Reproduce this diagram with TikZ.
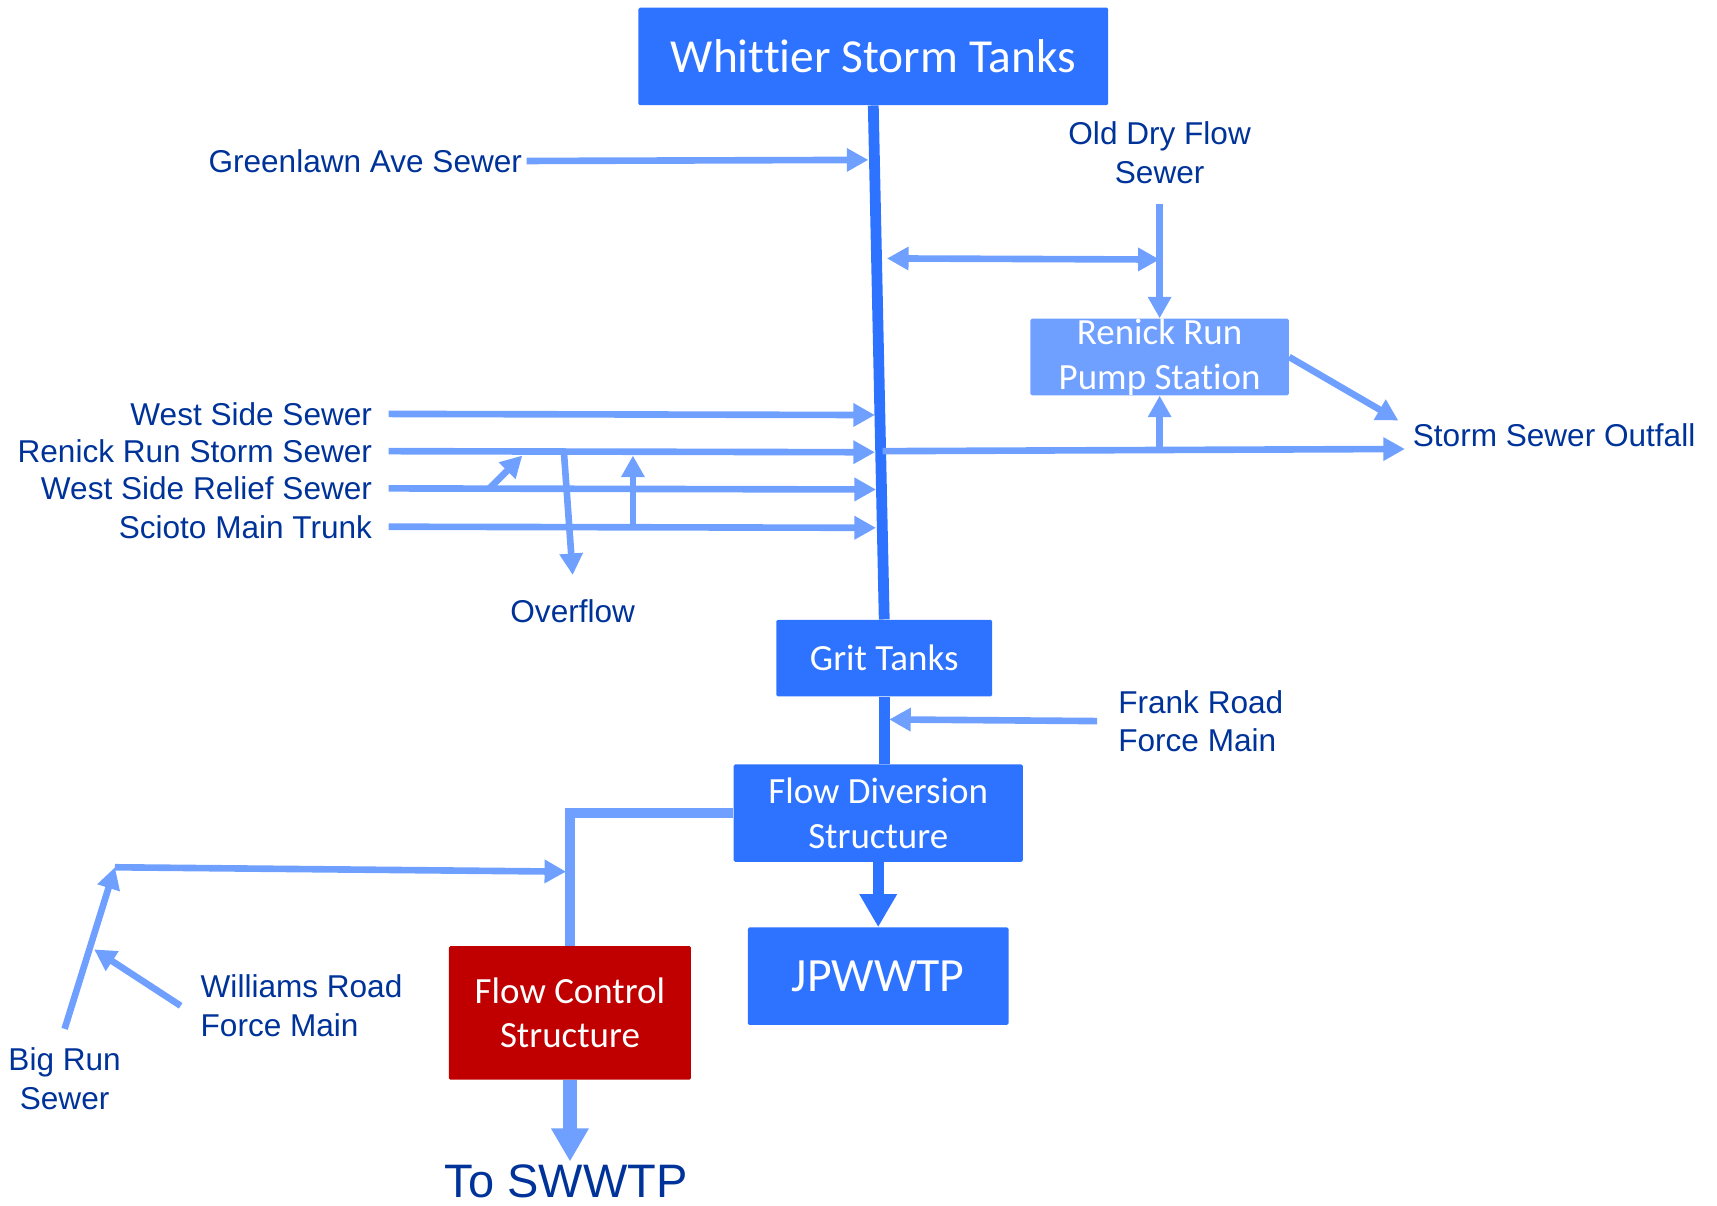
\documentclass[tikz,border=0pt]{standalone}
\usepackage{fontspec}
\setmainfont{Liberation Sans}
\newfontfamily\boxfont[Ligatures=NoCommon]{Carlito}
\usepackage{tikz}
\usetikzlibrary{arrows.meta, positioning}
\definecolor{tankblue}{RGB}{46,115,255}
\definecolor{pipeblue}{RGB}{111,160,255}
\definecolor{labelblue}{RGB}{0,51,153}
\definecolor{controlred}{RGB}{192,0,0}

\begin{document}
\begin{tikzpicture}[x=0.025cm, y=-0.025cm,
    tank/.style={fill=tankblue, text=white, font=\boxfont\fontsize{24}{29}\selectfont,
        align=center, inner sep=0pt, rounded corners=1pt},
    lbl/.style={text=labelblue, font=\fontsize{20.5}{25}\selectfont, inner sep=0pt},
    pipe/.style={pipeblue, line width=4.3pt},
    feed/.style={pipe, -{Triangle[length=14pt, width=14.5pt]}},
    main/.style={tankblue, line width=7pt},
    bigtip/.style={-{Triangle[length=21.5pt, width=23pt]}}]
    \useasboundingbox (0,0) rectangle (1568,1101);

    % boxes
    \node[tank, minimum width=10.725cm, minimum height=2.225cm,
        font=\boxfont\fontsize{30.8}{36}\selectfont] (whittier) at (797.5,51.5) {Whittier Storm Tanks};
    \node[tank, minimum width=4.925cm, minimum height=1.75cm] (grit) at (807.5,601) {Grit Tanks};
    \node[tank, minimum width=6.6cm, minimum height=2.225cm] (fds) at (802,742.5) {Flow Diversion\\Structure};
    \node[tank, minimum width=5.95cm, minimum height=2.225cm,
        font=\boxfont\fontsize{31}{36}\selectfont] (jpwwtp) at (802,891.5) {JPWWTP};
    \node[tank, fill=controlred, minimum width=5.525cm, minimum height=3.05cm] (fcs) at (520.5,925) {Flow Control\\Structure};
    \node[tank, fill=pipeblue, minimum width=5.9cm, minimum height=1.75cm] (pump) at (1059,326) {Renick Run\\Pump Station};

    % labels
    \node[lbl, anchor=east] (greenlawn) at (477,147) {Greenlawn Ave Sewer};
    \node[lbl, align=center] (olddry) at (1059,139.5) {Old Dry Flow\\Sewer};
    \node[lbl, anchor=east] (westside) at (340,378) {West Side Sewer};
    \node[lbl, anchor=east] (renickstorm) at (340,412) {Renick Run Storm Sewer};
    \node[lbl, anchor=east] (relief) at (340,446) {West Side Relief Sewer};
    \node[lbl, anchor=east] (scioto) at (340,481) {Scioto Main Trunk};
    \node[lbl] (overflow) at (523,558) {Overflow};
    \node[lbl, anchor=west] (outfall) at (1290,397) {Storm Sewer Outfall};
    \node[lbl, anchor=west, align=left] (frank) at (1021,658.5) {Frank Road\\Force Main};
    \node[lbl, anchor=west, align=left] (williams) at (183,918.5) {Williams Road\\Force Main};
    \node[lbl, align=center] (bigrun) at (59,985) {Big Run\\Sewer};
    \node[lbl, font=\fontsize{30.5}{36}\selectfont] (toswwtp) at (517,1079) {To SWWTP};

    % points on the pipes
    \coordinate (glIn) at (793,146);
    \coordinate (wsIn) at (799,379);
    \coordinate (rrIn) at (799,413);
    \coordinate (wrIn) at (800,447);
    \coordinate (smIn) at (800,482);
    \coordinate (dryMain) at (810,236);
    \coordinate (dryJoin) at (1059,237);
    \coordinate (outStart) at (806,412);
    \coordinate (outEnd) at (1283,410);
    \coordinate (pumpTee) at (1059,411);
    \coordinate (pumpOut) at (1277,384);
    \coordinate (reliefUp) at (446,447);
    \coordinate (reliefTip) at (477,416);
    \coordinate (ovTop) at (515,413);
    \coordinate (trunkUp) at (578,482);
    \coordinate (trunkTip) at (578,416);
    \coordinate (frankTip) at (812,657);
    \coordinate (bigrunBend) at (105,792);
    \coordinate (bigrunTip) at (517,796);
    \coordinate (williamsTip) at (86,867);

    % main line
    \draw[main] (whittier.south) -- (grit.north);
    \draw[main] (grit.south) -- (grit.south |- fds.north);
    \draw[main, bigtip] (fds.south) -- (jpwwtp.north);
    \draw[pipe, line width=7pt] (fds.west) -| (fcs.north);
    \draw[pipe, line width=8.5pt, bigtip, shorten >=2pt] (fcs.south) -- (fcs.south |- toswwtp.north);

    % sewers in
    \draw[feed] ([xshift=0.1cm]greenlawn.east) -- (glIn);
    \draw[feed] ([xshift=0.375cm]westside.east) -- (wsIn);
    \draw[feed] ([xshift=0.375cm]renickstorm.east) -- (rrIn);
    \draw[feed] ([xshift=0.375cm]relief.east) -- (wrIn);
    \draw[feed] ([xshift=0.375cm]scioto.east) -- (smIn);
    \draw[feed] (reliefUp) -- (reliefTip);
    \draw[feed] (trunkUp) -- (trunkTip);
    \draw[feed] (ovTop) -- ([yshift=0.55cm]overflow.north);

    % pump station
    \draw[feed] ([yshift=-0.45cm]olddry.south) -- (pump.north);
    \draw[pipe, {Triangle[length=14pt, width=14.5pt]}-{Triangle[length=14pt, width=14.5pt]}] (dryMain) -- (dryJoin);
    \draw[feed] (outStart) -- (outEnd);
    \draw[feed] (pumpTee) -- (pump.south);
    \draw[feed] (pump.east) -- (pumpOut);

    % force mains
    \draw[feed] ([xshift=-0.475cm]frank.west) -- (frankTip);
    \draw[feed] ([xshift=-0.45cm]williams.west) -- (williamsTip);
    \draw[feed] ([yshift=0.425cm]bigrun.north) -- (bigrunBend);
    \draw[feed] (bigrunBend) -- (bigrunTip);
\end{tikzpicture}
\end{document}
